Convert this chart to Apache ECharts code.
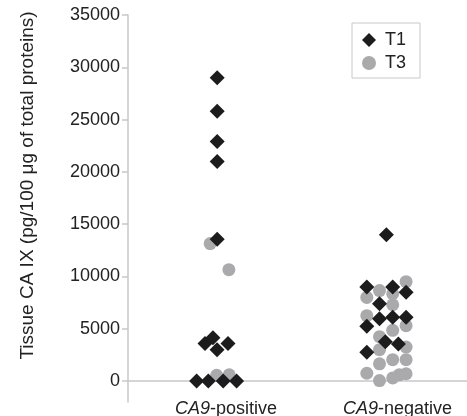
<!DOCTYPE html>
<html>
<head>
<meta charset="utf-8">
<script src="https://cdn.jsdelivr.net/npm/echarts@6/dist/echarts.min.js"></script>
<style>html,body{margin:0;padding:0;background:#fff}#c{width:467px;height:416px}</style>
</head>
<body>
<div id="c"></div>
<script>
var categories = ['CA9-positive', 'CA9-negative'];
var yTicks = [0, 5000, 10000, 15000, 20000, 25000, 30000, 35000];

// T1 (diamonds): category index, horizontal jitter, value
var t1Cat    = [0,0,0,0,0,0,0,0,0,0,0,0,0, 1,1,1,1,1,1,1,1,1,1,1,1];
var t1Jitter = [-0.051,-0.051,-0.051,-0.051,-0.051,-0.122,-0.076,-0.052,0.012,-0.171,-0.103,-0.016,0.062,
                -0.065,-0.179,-0.028,0.050,-0.105,-0.105,-0.028,0.050,-0.179,-0.071,0.005,-0.179];
var t1Values = [29000,25800,22900,21000,13550,3600,4150,3000,3600,0,0,0,0,
                14000,9000,9000,8500,7400,5950,6100,6100,5250,3750,3550,2750];

// T3 (grey circles)
var t3Cat    = [0,0,0,0, 1,1,1,1,1,1,1,1,1,1,1,1,1,1,1,1,1,1,1];
var t3Jitter = [-0.092,0.017,-0.054,0.019,
                -0.105,0.050,-0.179,-0.028,-0.028,-0.179,-0.028,0.050,-0.105,-0.105,0.050,-0.028,0.050,-0.105,-0.179,-0.105,-0.028,0.010,0.050];
var t3Values = [13150,10650,550,600,
                8650,9500,8000,8350,7300,6250,4850,5300,4250,3000,3250,2050,2050,1650,750,50,300,600,700];

function pts(cat, jit, vals) {
  return vals.map(function (v, i) { return [cat[i] + 1 + jit[i], v]; });
}

var chart = echarts.init(document.getElementById('c'));
var font = 'Liberation Sans, Arial, sans-serif';
chart.setOption({
  animation: false,
  textStyle: { fontFamily: font },
  grid: { left: 128, right: 0, top: 15, bottom: 14, containLabel: false, outerBoundsMode: 'none' },
  legend: {
    orient: 'vertical',
    left: 352, top: 23,
    borderColor: '#c8c8c8', borderWidth: 1,
    padding: [8, 14, 6, 10],
    itemWidth: 14, itemHeight: 14, itemGap: 5,
    textStyle: { fontSize: 18, color: '#222', fontFamily: font, padding: [0, 0, 0, 4] },
    data: [{ name: 'T1', icon: 'diamond' }, { name: 'T3', icon: 'circle' }]
  },
  xAxis: {
    type: 'value',
    min: 0.429, max: 2.405,
    splitLine: { show: false },
    axisLine: { onZero: true, lineStyle: { color: '#c8c8c8', width: 1.5 } },
    axisTick: { show: false },
    axisLabel: {
      customValues: [1, 2],
      margin: -2,
      color: '#222',
      fontSize: 18,
      formatter: function (v) {
        var name = categories[Math.round(v) - 1];
        var parts = name.split('-');
        return '{i|' + parts[0] + '}-' + parts[1];
      },
      rich: { i: { fontStyle: 'italic', fontSize: 18, color: '#222', fontFamily: font } }
    }
  },
  yAxis: {
    type: 'value',
    min: -2000, max: 35000,
    name: 'Tissue CA IX (pg/100 \u03bcg of total proteins)',
    nameLocation: 'middle',
    nameGap: 91,
    nameTextStyle: { fontSize: 19, color: '#222', fontFamily: font, padding: [0, 0, 0, 46] },
    splitLine: { show: false },
    axisLine: { show: true, onZero: false, lineStyle: { color: '#c8c8c8', width: 1.5 } },
    axisTick: { show: true, customValues: yTicks, length: 6, lineStyle: { color: '#c8c8c8', width: 1.5 } },
    axisLabel: { customValues: yTicks, color: '#222', fontSize: 18, margin: 8,
      formatter: function (v) { return String(v); } }
  },
  series: [
    {
      name: 'T3', type: 'scatter', symbol: 'circle', symbolSize: 13,
      itemStyle: { color: '#aaaaac', opacity: 1 },
      data: pts(t3Cat, t3Jitter, t3Values)
    },
    {
      name: 'T1', type: 'scatter', symbol: 'diamond', symbolSize: 15,
      itemStyle: { color: '#1c1c1c', opacity: 1 },
      data: pts(t1Cat, t1Jitter, t1Values)
    }
  ]
});
</script>
</body>
</html>
